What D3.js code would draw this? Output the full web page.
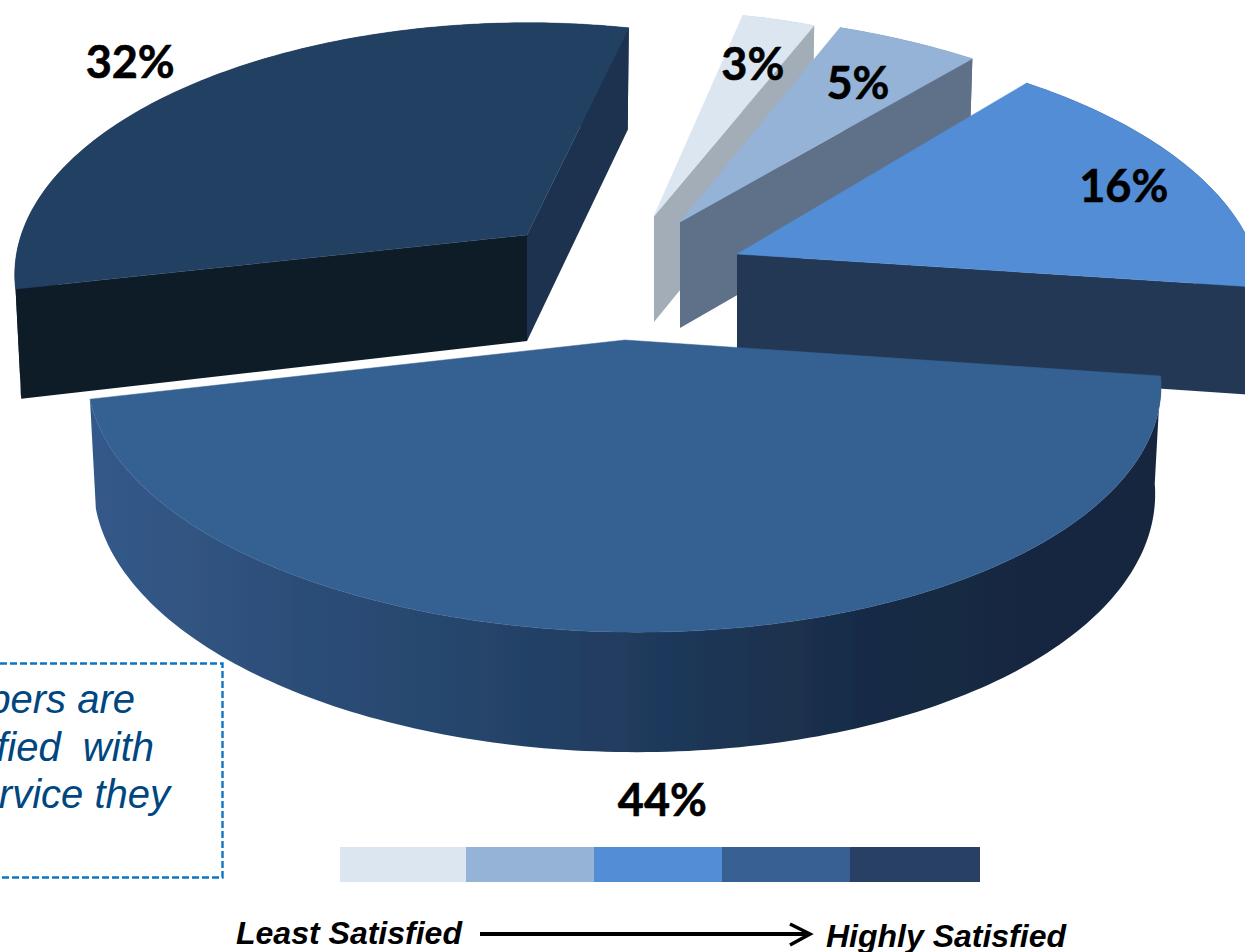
<!DOCTYPE html>
<html><head><meta charset="utf-8">
<script src="https://cdn.jsdelivr.net/npm/d3@7"></script>
<style>html,body{margin:0;padding:0;background:#fff;overflow:hidden}svg{display:block}</style>
</head><body><svg id="c" width="1245" height="952"></svg>
<script>
// ---- data ----
const categories = ["Level 1","Level 2","Level 3","Level 4","Level 5"];
const values = [3,5,16,44,32];
const colors = ["#dce6f1","#95b3d7","#538dd5","#366092","#244062"];
const legendColors = ["#dce6f1","#95b3d7","#538dd5","#386092","#274063"];
const endFaceColors = ["#a3adb8","#5e7089","#233855","#1b3250","#1c324f"];
const startFaceColors = ["#a3adb8","#5e7089","#233855","#1b3250","#0e1a25"];
const callout = ["Members are","satisfied  with","the service they"];

// ---- layout of the exploded slices (draw order is back to front) ----
const apex = [[654,216],[680,222],[737,254],[625,340],[527,235]];
const tune = [{sx:.86,sy:.965,sk:20.6,tl:0},{sx:1,sy:.985,sk:-4,tl:0},{sx:.98,sy:1.02,sk:0,tl:-3},{sx:1,sy:1,sk:5,tl:0},{sx:.945,sy:1,sk:27,tl:5}];
const labelShift = [[-26,44],[-50,42],[-66,18],[-6,168],[-81,-15]];
const drawOrder = [4,0,1,2,3];
const legendStops = [340,466,594,722,850,980];
const rot = 10*Math.PI/180;

const svg = d3.select("#c");
const defs = svg.append("defs");
const grad = defs.append("linearGradient").attr("id","wall44")
  .attr("gradientUnits","userSpaceOnUse").attr("x1",97).attr("x2",1155).attr("y1",0).attr("y2",0);
[[0,"#34598a"],[.12,"#2f527e"],[.45,"#223f63"],[.75,"#172a44"],[1,"#15263e"]].forEach(s=>
  grad.append("stop").attr("offset",s[0]).attr("stop-color",s[1]));
defs.append("filter").attr("id","soft").attr("filterUnits","userSpaceOnUse")
  .attr("x",-20).attr("y",-20).attr("width",1300).attr("height",1000)
  .append("feGaussianBlur").attr("stdDeviation",.6);

const arcs = d3.pie().sort(null).startAngle(rot).endAngle(rot+2*Math.PI).value(d=>d)(values);

// ground plane -> screen perspective
const A=530,C=8,E=245.6,H=.159;
function project(i,ang,r,low){
  const u=r*Math.sin(ang), v=r*Math.cos(ang), den=1+H*v, t=tune[i];
  let x=(A*u*t.sx)/den + t.sk*v, y=((C+t.tl)*u-E*v*t.sy)/den;
  if(low){ x*=.989; y+= v<0 ? 106-14*v : 106-4*v; }
  return [apex[i][0]+x, apex[i][1]+y];
}
const line = d3.line();
function cross(a,b){return a[0]*b[1]-a[1]*b[0];}
const pie3d = svg.append("g").attr("filter","url(#soft)");

drawOrder.forEach(i=>{
  const d=arcs[i], g=pie3d.append("g");
  const n=Math.max(8,Math.ceil((d.endAngle-d.startAngle)*60));
  const angs=d3.range(n+1).map(k=>d.startAngle+(d.endAngle-d.startAngle)*k/n);
  const top=angs.map(a=>project(i,a,1,false));
  const bot=angs.map(a=>project(i,a,1,true));
  const P=apex[i], Pl=project(i,0,0,true);
  // outer wall
  g.append("path").attr("d",line(top.concat(bot.slice().reverse()))+"Z")
    .attr("fill", i===3 ? "url(#wall44)" : endFaceColors[i]);
  // cut faces: only drawn if they face the viewer
  const mid=project(i,(d.startAngle+d.endAngle)/2,1,false);
  const M=[mid[0]-P[0],mid[1]-P[1]];
  [[0,startFaceColors[i]],[n,endFaceColors[i]]].forEach(([k,col])=>{
    const E0=[top[k][0]-P[0],top[k][1]-P[1]];
    if(cross(E0,M)*cross(E0,[0,1])<0){
      g.append("path").attr("d",line([P,top[k],bot[k],Pl])+"Z").attr("fill",col);
    }
  });
  // top
  g.append("path").attr("d",line([P].concat(top))+"Z").attr("fill",colors[i])
    .attr("stroke",colors[i]).attr("stroke-width",.5);
});

// percent labels
arcs.forEach((d,i)=>{
  const m=project(i,(d.startAngle+d.endAngle)/2,1,false);
  svg.append("text").attr("x",m[0]+labelShift[i][0]).attr("y",m[1]+labelShift[i][1]+16)
    .attr("text-anchor","middle").attr("font-family","Lato, 'Noto Sans', sans-serif")
    .attr("font-weight",700).attr("font-size",45).attr("fill","#000")
    .attr("stroke","#000").attr("stroke-width",.6).text(values[i]+"%");
});

// legend strip
svg.append("g").selectAll("rect").data(categories).join("rect")
  .attr("x",(d,i)=>legendStops[i]).attr("y",847)
  .attr("width",(d,i)=>legendStops[i+1]-legendStops[i]).attr("height",35)
  .attr("fill",(d,i)=>legendColors[i]);

const sans="'Liberation Sans', Arial, sans-serif";
svg.append("text").attr("x",236).attr("y",944).attr("font-family",sans).attr("font-weight",700)
  .attr("font-style","italic").attr("font-size",31).attr("textLength",226).attr("lengthAdjust","spacingAndGlyphs")
  .text("Least Satisfied");
svg.append("text").attr("x",826).attr("y",947).attr("font-family",sans).attr("font-weight",700)
  .attr("font-style","italic").attr("font-size",31).attr("textLength",240).attr("lengthAdjust","spacingAndGlyphs")
  .text("Highly Satisfied");
svg.append("path").attr("d","M480 934H808").attr("stroke","#000").attr("stroke-width",4).attr("fill","none");
svg.append("path").attr("d","M790 924L810 934L790 945").attr("stroke","#000").attr("stroke-width",3.5).attr("fill","none");

// callout
svg.append("rect").attr("x",-10).attr("y",663.5).attr("width",232.5).attr("height",214)
  .attr("fill","none").attr("stroke","#0e75c4").attr("stroke-width",2.4).attr("stroke-dasharray","7 3");
const ends=[135,154,170], bases=[713,761,808];
callout.forEach((t,i)=>svg.append("text").attr("x",ends[i]).attr("y",bases[i]).attr("text-anchor","end")
  .attr("font-family",sans).attr("font-style","italic").attr("font-size",40).attr("fill","#00467f")
  .attr("xml:space","preserve").style("white-space","pre").text(t));
</script></body></html>
